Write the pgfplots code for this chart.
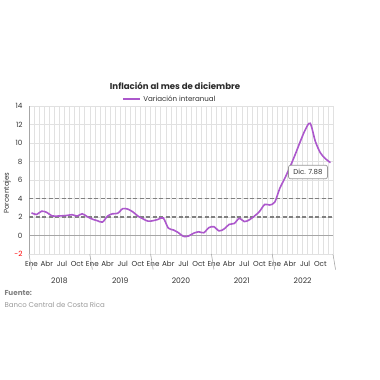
\documentclass[border=0pt]{standalone}
\usepackage{pgfplots}
\pgfplotsset{compat=1.18}
\usepackage{fontspec}
\setmainfont{Poppins}
\definecolor{linea}{RGB}{172,88,204}
\definecolor{gridc}{RGB}{225,225,225}
\definecolor{txt}{RGB}{50,50,50}
\begin{document}
\begin{tikzpicture}[x=1pt,y=1pt]
\path[use as bounding box] (0,0) rectangle (380,-380);
\begin{axis}[
  at={(29pt,-254pt)}, anchor=south west, scale only axis,
  width=304pt, height=148pt,
  xmin=-0.5, xmax=59.5, ymin=-2, ymax=14,
  ytick={-2,0,...,14},
  yticklabels={\textcolor{red}{-2},0,2,4,6,8,10,12,14},
  xtick={0,3,...,57},
  xticklabels={Ene,Abr,Jul,Oct,Ene,Abr,Jul,Oct,Ene,Abr,Jul,Oct,Ene,Abr,Jul,Oct,Ene,Abr,Jul,Oct},
  minor xtick={-0.5,0.5,...,59.5},
  xminorgrids, ymajorgrids,
  minor grid style={gridc, line width=0.5pt},
  major grid style={gridc, line width=0.5pt},
  axis x line*=bottom, axis y line*=left,
  x axis line style={draw=none},
  y axis line style={draw=gray!70, line width=0.6pt},
  major tick length=0pt, minor tick length=0pt,
  tick label style={font=\fontsize{7.2}{8}\selectfont, text=txt},
  xticklabel style={yshift=-4pt},
  yticklabel style={xshift=-3pt},
  clip=false,
  legend style={at={(0.464,1)}, anchor=south, draw=none, fill=none,
    font=\fontsize{7.1}{8}\selectfont, inner sep=1pt},
]
\addplot[gray!70, line width=0.6pt, forget plot] coordinates {(-0.5,0) (59.5,0)};
\addplot[gray, line width=1.3pt, dash pattern=on 4pt off 2.5pt, forget plot] coordinates {(-0.5,2) (59.5,2)};
\addplot[gray, line width=1.3pt, dash pattern=on 4pt off 2.5pt, forget plot] coordinates {(-0.5,4) (59.5,4)};
\addplot[linea, line width=1.6pt, smooth, tension=0.5] coordinates {
(0,2.45) (1,2.27) (2,2.63) (3,2.5) (4,2.13) (5,2.1) (6,2.13) (7,2.17) (8,2.25) (9,2.1) (10,2.35) (11,2.03)
(12,1.77) (13,1.6) (14,1.45) (15,2.1) (16,2.35) (17,2.4) (18,2.9) (19,2.85) (20,2.55) (21,2.1) (22,1.8) (23,1.55)
(24,1.6) (25,1.75) (26,1.9) (27,0.8) (28,0.6) (29,0.3) (30,-0.1) (31,-0.05) (32,0.25) (33,0.4) (34,0.3) (35,0.85)
(36,0.95) (37,0.5) (38,0.7) (39,1.2) (40,1.3) (41,1.85) (42,1.5) (43,1.7) (44,2.1) (45,2.6) (46,3.35) (47,3.3)
(48,3.6) (49,5.1) (50,6.2) (51,7.4) (52,8.7) (53,10.1) (54,11.4) (55,12.13) (56,10.2) (57,8.95) (58,8.3) (59,7.88)
};
\addlegendentry{\textcolor{txt}{Variación interanual}}
\draw[gray!70, line width=0.6pt] (axis cs:-0.5,-2) -- ++(0,-34pt);
\draw[gray!70, line width=0.6pt] (axis cs:11.5,-2) -- ++(0,-34pt);
\draw[gray!70, line width=0.6pt] (axis cs:23.5,-2) -- ++(0,-34pt);
\draw[gray!70, line width=0.6pt] (axis cs:35.5,-2) -- ++(0,-34pt);
\draw[gray!70, line width=0.6pt] (axis cs:47.5,-2) -- ++(0,-34pt);
\draw[gray!70, line width=0.6pt] (axis cs:59.5,-2) -- ++(0,-34pt);
\node[font=\fontsize{7.6}{8}\selectfont, text=txt] at (axis cs:5.5,-2) [yshift=-27pt] {2018};
\node[font=\fontsize{7.6}{8}\selectfont, text=txt] at (axis cs:17.5,-2) [yshift=-27pt] {2019};
\node[font=\fontsize{7.6}{8}\selectfont, text=txt] at (axis cs:29.5,-2) [yshift=-27pt] {2020};
\node[font=\fontsize{7.6}{8}\selectfont, text=txt] at (axis cs:41.5,-2) [yshift=-27pt] {2021};
\node[font=\fontsize{7.6}{8}\selectfont, text=txt] at (axis cs:53.5,-2) [yshift=-27pt] {2022};
\end{axis}
\node[font=\bfseries\fontsize{8.6}{9}\selectfont, text=txt!85!black] at (175,-86) {Inflación al mes de diciembre};
\node[rotate=90, font=\fontsize{7}{8}\selectfont, text=txt] at (7,-193) {Porcentajes};
\node[draw=gray!80, rounded corners=2pt, fill=white, line width=0.7pt, inner xsep=5pt, inner ysep=4pt,
  font=\fontsize{7}{8}\selectfont, text=txt] at (308,-172) {Dic. 7.88};
\node[anchor=west, font=\bfseries\fontsize{7.2}{8}\selectfont, text=gray] at (1,-293) {Fuente:};
\node[anchor=west, font=\fontsize{7}{8}\selectfont, text=gray!80] at (1,-305) {Banco Central de Costa Rica};
\end{tikzpicture}
\end{document}
